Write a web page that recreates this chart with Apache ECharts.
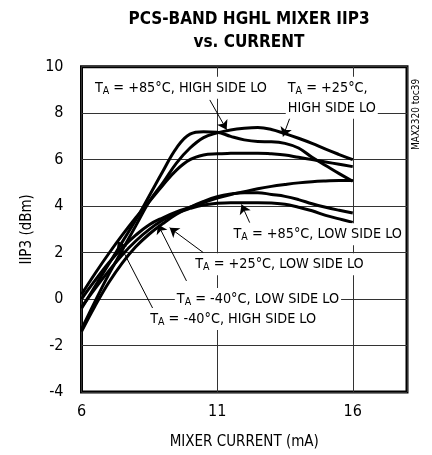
<!DOCTYPE html>
<html><head><meta charset="utf-8">
<script src="https://cdn.jsdelivr.net/npm/echarts@6/dist/echarts.min.js"></script>
<style>html,body{margin:0;padding:0;background:#fff}#c{width:432px;height:455px}</style>
</head><body><div id="c"></div>
<script>
const currents = [6,6.5,7,7.5,8,8.5,9,9.5,10,10.5,11,11.5,12,12.5,13,13.5,14,14.5,15,15.5,16];
const hot_high  = [-0.4,0.55,1.5,2.45,3.4,4.45,5.5,6.5,7.1,7.2,7.18,7.0,6.85,6.78,6.77,6.7,6.5,6.1,5.75,5.4,5.07];
const room_high = [-1.3,-0.1,1.05,2.1,3.15,4.2,5.0,5.85,6.5,6.95,7.15,7.28,7.35,7.38,7.3,7.12,6.92,6.7,6.45,6.22,6.0];
const cold_high = [0.2,1.1,1.95,2.75,3.5,4.2,4.9,5.55,6.0,6.2,6.25,6.27,6.28,6.28,6.25,6.2,6.1,6.0,5.9,5.8,5.7];
const hot_low   = [-0.35,0.45,1.2,1.9,2.5,3.0,3.4,3.7,3.9,4.05,4.12,4.15,4.15,4.15,4.13,4.08,3.95,3.8,3.6,3.45,3.3];
const room_low  = [-1.4,-0.3,0.7,1.55,2.25,2.8,3.25,3.65,3.95,4.2,4.4,4.52,4.58,4.58,4.5,4.42,4.28,4.1,3.95,3.82,3.7];
const cold_low  = [0.0,0.8,1.55,2.2,2.75,3.2,3.5,3.75,3.95,4.15,4.35,4.5,4.62,4.75,4.85,4.93,5.0,5.05,5.08,5.1,5.1];
const xTicks = [6,11,16];
const yTicks = [-4,-2,0,2,4,6,8,10];
const labelTexts = ['+85°C, HIGH SIDE LO','+25°C,','+85°C, LOW SIDE LO','+25°C, LOW SIDE LO','-40°C, LOW SIDE LO','-40°C, HIGH SIDE LO'];

const FONT = "'DejaVu Sans Condensed','Liberation Sans Narrow',sans-serif";
const allSeries = [hot_high, room_high, cold_high, hot_low, room_low, cold_low];

// annotation anchor points (data units)
const labelAt = [[6.42,9.09],[13.53,8.66],[11.53,2.79],[10.12,1.5],[9.44,0.0],[8.46,-0.86]];
const arrows = [
  [[10.73,8.57],[11.35,7.29]],
  [[13.68,7.79],[13.43,7.0]],
  [[12.2,3.29],[11.9,4.07]],
  [[10.49,2.0],[9.25,3.07]],
  [[9.87,0.78],[8.82,3.21]],
  [[8.64,-0.43],[7.34,2.5]]
];

function richLabel(i){
  let s = '{t|T}{s|A}{t| = ' + labelTexts[i] + '}';
  if (i === 1) s += '\n{t|HIGH SIDE LO}';
  return s;
}

const series = allSeries.map(v => ({
  type:'line', smooth:0.4, symbol:'none', silent:true,
  data: currents.map((x,i)=>[x,v[i]]),
  lineStyle:{color:'#000', width:3}
}));
series.push({
  type:'line', data:[], silent:true,
  markLine:{
    silent:true, symbol:['none','arrow'], symbolSize:9, animation:false,
    lineStyle:{color:'#000', width:1, type:'solid'}, label:{show:false},
    data: arrows.map(a=>[{coord:a[0]},{coord:a[1]}])
  },
  markPoint:{
    silent:true, symbol:'circle', symbolSize:0, animation:false,
    data: labelAt.map((p,i)=>({coord:p, value:i,
      label:{show:true, position:'right', distance:0, formatter: richLabel(i),
        backgroundColor:'#fff', padding:[1,2], lineHeight:20,
        rich:{t:{fontFamily:FONT, fontSize:14.3, color:'#000', lineHeight:20},
              s:{fontFamily:FONT, fontSize:10.5, color:'#000', padding:[7,0,0,0], lineHeight:20}}}}))
  }
});

const chart = echarts.init(document.getElementById('c'), null, {renderer:'canvas'});
chart.setOption({
  animation:false,
  title:{text:'PCS-BAND HGHL MIXER IIP3\nvs. CURRENT', left:244, top:3, textAlign:'center',
    textStyle:{fontFamily:FONT, fontWeight:'bold', fontSize:17, lineHeight:23, color:'#000'}},
  grid:{left:81.5, right:25, top:66.7, bottom:61.7, show:true, borderColor:'#000', borderWidth:3},
  xAxis:{type:'value', min:6, max:18, interval:5,
    name:'MIXER CURRENT (mA)', nameLocation:'middle', nameGap:43,
    nameTextStyle:{fontFamily:FONT, fontSize:15, color:'#000'},
    axisLine:{show:false}, axisTick:{show:false},
    axisLabel:{fontFamily:FONT, fontSize:16, color:'#000', margin:12, showMaxLabel:false,
      formatter:v=> xTicks.includes(v)? String(v):''},
    splitLine:{show:true, lineStyle:{color:'#333', width:1}}},
  yAxis:{type:'value', min:-4, max:10, interval:2,
    name:'IIP3 (dBm)', nameLocation:'middle', nameGap:43,
    nameTextStyle:{fontFamily:FONT, fontSize:15, color:'#000'},
    axisLine:{show:false}, axisTick:{show:false},
    axisLabel:{fontFamily:FONT, fontSize:16, color:'#000', margin:18,
      formatter:v=> yTicks.includes(v)? String(v):''},
    splitLine:{show:true, lineStyle:{color:'#333', width:1}}},
  graphic:[{type:'text', x:411, y:150, rotation:Math.PI/2,
    style:{text:'MAX2320 toc39', fontFamily:FONT, fontSize:10, fill:'#000'}}],
  series: series
});
</script></body></html>
